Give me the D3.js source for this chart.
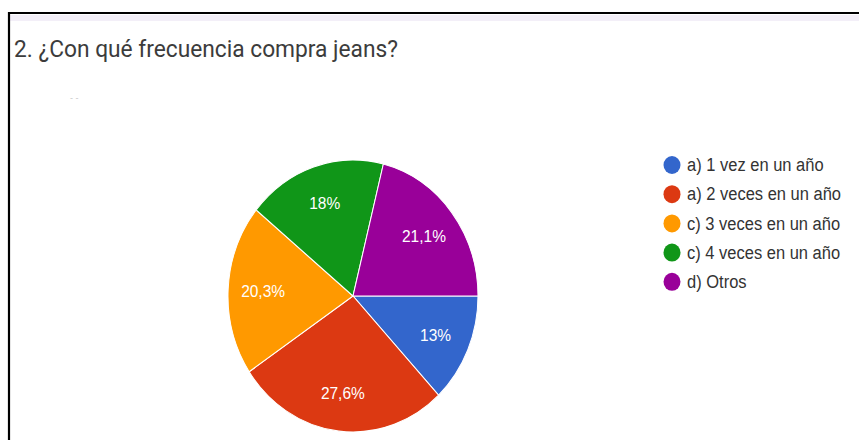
<!DOCTYPE html>
<html>
<head>
<meta charset="utf-8">
<script src="https://cdn.jsdelivr.net/npm/d3@7"></script>
<style>
  body { margin: 0; background: #fff; }
  svg { display: block; }
</style>
</head>
<body>
<div id="chart"></div>
<script>
// chart values
var categories = ["a) 1 vez en un año", "a) 2 veces en un año", "c) 3 veces en un año", "c) 4 veces en un año", "d) Otros"]
var values = [13, 27.6, 20.3, 18, 21.1]
var labels = ["13%", "27,6%", "20,3%", "18%", "21,1%"]
var colors = ["#3366cc", "#dc3912", "#ff9900", "#109618", "#990099"]
var title = "2. ¿Con qué frecuencia compra jeans?"

var width = 859
var height = 440
var cx = 353, cy = 296
var radius = 125
var stretch = 1.088   // the picture is a bit taller than wide

var data = categories.map((c, i) => ({ name: c, value: values[i], label: labels[i] }))

var color = d3.scaleOrdinal()
  .domain(categories)
  .range(colors)

var svg = d3.select("#chart").append("svg")
  .attr("width", width)
  .attr("height", height)

// frame (top + left edge)
svg.append("rect")
  .attr("x", 9)
  .attr("y", 15)
  .attr("width", width)
  .attr("height", 6)
  .attr("fill", "#f3eff8")
svg.append("path")
  .attr("d", `M9,${height}V13H${width}`)
  .attr("fill", "none")
  .attr("stroke", "#000")
  .attr("stroke-width", 2.2)

svg.append("text")
  .attr("transform", `translate(14,57) scale(1,${stretch})`)
  .attr("fill", "#3c3c3c")
  .style("font", "22px Roboto, sans-serif")
  .attr("textLength", 384)
  .attr("lengthAdjust", "spacingAndGlyphs")
  .text(title)

// leftover specks from the screenshot
svg.append("text")
  .attr("x", 70)
  .attr("y", 101)
  .attr("fill", "#c8c8c8")
  .style("font", "9px sans-serif")
  .text("-   -")

var pie = d3.pie()
  .sort(null)
  .value(d => d.value)
  .startAngle(Math.PI / 2)
  .endAngle(Math.PI / 2 + 2 * Math.PI)

var arc = d3.arc()
  .innerRadius(0)
  .outerRadius(radius)

var labelArc = d3.arc()
  .innerRadius(radius * 0.72)
  .outerRadius(radius * 0.72)

var arcs = pie(data)

var g = svg.append("g")
  .attr("transform", `translate(${cx},${cy}) scale(1,${stretch})`)

g.selectAll("path")
  .data(arcs)
  .join("path")
  .attr("fill", d => color(d.data.name))
  .attr("stroke", "#fff")
  .attr("stroke-width", 1)
  .attr("d", arc)

svg.append("g")
  .attr("transform", `translate(${cx},${cy})`)
  .selectAll("text")
  .data(arcs)
  .join("text")
  .attr("transform", d => {
    var p = labelArc.centroid(d)
    return `translate(${p[0]},${p[1] * stretch}) scale(1,${stretch})`
  })
  .attr("text-anchor", "middle")
  .attr("dy", "0.35em")
  .attr("fill", "#fff")
  .style("font", "15.5px 'Liberation Sans', Arial, sans-serif")
  .text(d => d.data.label)

// legend
var legend = svg.append("g")
  .attr("transform", "translate(672,165)")
  .selectAll("g")
  .data(categories)
  .join("g")
  .attr("transform", (d, i) => `translate(0,${i * 29.2})`)

legend.append("ellipse")
  .attr("rx", 8.5)
  .attr("ry", 9)
  .attr("fill", color)

legend.append("text")
  .attr("x", 15)
  .attr("dy", "0.35em")
  .attr("transform", `scale(1,${stretch})`)
  .attr("fill", "#333")
  .style("font", "16.5px 'Liberation Sans', Arial, sans-serif")
  .text(d => d)
</script>
</body>
</html>
